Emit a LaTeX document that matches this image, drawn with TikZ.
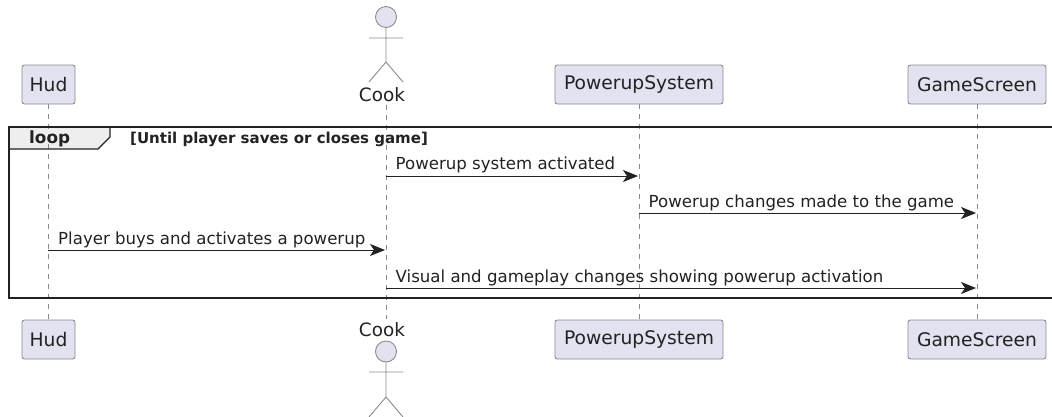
\documentclass[tikz,border=0pt]{standalone}
\usepackage{fontspec}
\setmainfont{DejaVu Sans}
\usetikzlibrary{arrows.meta}
\definecolor{partfill}{HTML}{E2E2F0}
\definecolor{partline}{HTML}{8C8C8C}
\definecolor{lifeline}{HTML}{8A8A8A}
\definecolor{framefill}{HTML}{EEEEEE}
\definecolor{inkdark}{HTML}{222222}
\tikzset{part/.style={rectangle,draw=partline,fill=partfill,line width=0.9pt,rounded corners=2.5pt,minimum height=39pt,inner sep=0pt,font=\fontsize{18.7}{22}\selectfont,text=inkdark},
	 txt/.style={inner sep=0pt,text=inkdark,font=\fontsize{16.6}{20}\selectfont,anchor=base west},
	 act/.style={inner sep=0pt,text=inkdark,font=\fontsize{18.4}{22}\selectfont},
	 msg/.style={draw=inkdark,line width=1pt,-{Stealth[length=15pt,width=12pt,inset=4pt]}},
	 life/.style={draw=lifeline,line width=0.9pt,dash pattern=on 5pt off 5pt},
	 stick/.style={draw=partline,line width=0.9pt},
	 frm/.style={draw=inkdark,line width=2.4pt}
	 }

\begin{document}
\begin{tikzpicture}[x=1pt,y=-1pt]
	\clip (0,0) rectangle (1052,416);
	\fill[white] (0,0) rectangle (1052,416);
	% loop tab goes under the lifelines
	\coordinate (fa) at (1053,127); \coordinate (fb) at (9,127);
	\coordinate (fc) at (9,298); \coordinate (fd) at (1053,298);
	\fill[framefill] (9,127) -- (110,127) -- (110,137) -- (98,149) -- (9,149) -- cycle;
	\node[part,minimum width=53pt] (hud1) at (48.5,84.5) {Hud};
	\node[part,minimum width=168pt] (pow1) at (639,84.5) {PowerupSystem};
	\node[part,minimum width=138pt] (gam1) at (977,84.5) {GameScreen};
	\node[part,minimum width=53pt] (hud2) at (48.5,339.5) {Hud};
	\node[part,minimum width=168pt] (pow2) at (639,339.5) {PowerupSystem};
	\node[part,minimum width=138pt] (gam2) at (977,339.5) {GameScreen};
	\node[act] (cook1) at (382,95) {Cook};
	\node[act] (cook2) at (382,330) {Cook};
	\coordinate (c1) at (386,105); \coordinate (c2) at (386,319);
	\draw[life] (hud1) -- (hud2); \draw[life] (c1) -- (c2);
	\draw[life] (pow1) -- (pow2); \draw[life] (gam1) -- (gam2);
	% stick figures
	\draw[stick,fill=partfill] (386,17) circle (10.5);
	\draw[stick] (386,27.5) -- (386,62) (369,38) -- (403,38) (369,82) -- (386,62) -- (403,82);
	\draw[stick,fill=partfill] (386,351.5) circle (10.5);
	\draw[stick] (386,362) -- (386,397) (369,372) -- (403,372) (369,417) -- (386,397) -- (403,417);
	% loop frame
	\draw[frm] (fa) -- (fb) -- (fc) -- (fd);
	\draw[inkdark,line width=1.4pt] (110,127) -- (110,137) -- (98,149) -- (9,149);
	\node[txt,font=\bfseries\fontsize{16.8}{20}\selectfont] (lp) at (29,143.3) {loop};
	\node[txt,font=\bfseries\fontsize{15}{18}\selectfont] (cond) at (130,143.3) {[Until player saves or closes game]};
	% messages
	\coordinate (m1a) at (386,176); \coordinate (m1b) at (638,176);
	\coordinate (m2a) at (639,213); \coordinate (m2b) at (976,213);
	\coordinate (m3a) at (48,250); \coordinate (m3b) at (385,250);
	\coordinate (m4a) at (386,288); \coordinate (m4b) at (976,288);
	\draw[msg] (m1a) to (m1b); \draw[msg] (m2a) to (m2b);
	\draw[msg] (m3a) to (m3b); \draw[msg] (m4a) to (m4b);
	\node[txt] (t1) at (395.5,169.5) {Powerup system activated};
	\node[txt] (t2) at (648.5,207) {Powerup changes made to the game};
	\node[txt] (t3) at (58,244.5) {Player buys and activates a powerup};
	\node[txt] (t4) at (395.5,282) {Visual and gameplay changes showing powerup activation};
\end{tikzpicture}
\end{document}
